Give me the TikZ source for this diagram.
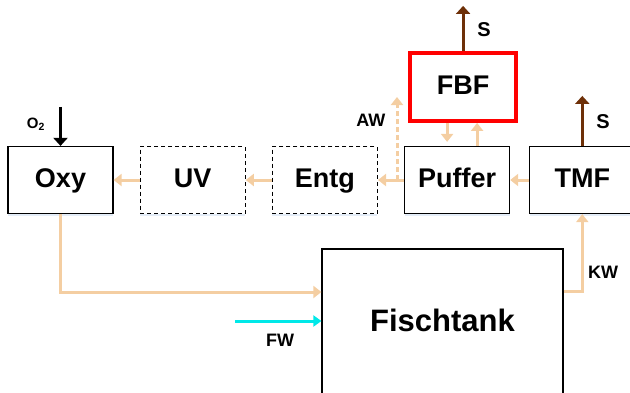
\documentclass[tikz,border=0pt]{standalone}
\usepackage{fontspec}
\setmainfont{Liberation Sans}
\usepackage{tikz}
\usetikzlibrary{positioning,arrows.meta,calc,shadows}
\definecolor{flowbeige}{RGB}{244,206,162}
\definecolor{sbrown}{RGB}{110,48,8}
\definecolor{fwcyan}{RGB}{0,232,232}
\definecolor{shadowblue}{RGB}{228,237,248}

\begin{document}
\begin{tikzpicture}[
  x=1pt, y=1pt,
  node distance=26pt,
  box/.style={draw, line width=1.2pt, minimum width=105pt, minimum height=67pt, align=center, text height=16pt, text depth=1pt,
    font=\fontsize{27}{29}\selectfont\bfseries, fill=white,
    drop shadow={shadow xshift=0pt, shadow yshift=-2.5pt, fill=shadowblue, opacity=1}},
  dbox/.style={box, dashed, dash pattern=on 4pt off 3pt},
  fbfbox/.style={box, draw=red, line width=4pt, minimum width=106pt, minimum height=68pt},
  lbl/.style={font=\fontsize{18}{20}\selectfont\bfseries},
  flow/.style={-{Triangle[width=12pt,length=8pt]}, line width=3pt, flowbeige},
  sflow/.style={-{Triangle[width=14pt,length=8pt]}, line width=3pt, sbrown},
  fwflow/.style={-{Triangle[width=11pt,length=8pt]}, line width=3pt, fwcyan},
  o2flow/.style={-{Triangle[width=14pt,length=8pt]}, line width=2.2pt, black},
]
  \useasboundingbox (0,0) rectangle (630,-392);
  \node[box] (oxy) at (60.5,-180) {Oxy};
  \node[dbox, right=of oxy] (uv) {UV};
  \node[dbox, right=of uv] (entg) {Entg};
  \node[box, right=of entg] (puffer) {Puffer};
  \node[box, right=19pt of puffer] (tmf) {TMF};
  \node[fbfbox, above=23pt of puffer, xshift=6pt] (fbf) {FBF};
  \node[box, minimum width=241pt, minimum height=150pt, text height=22pt, text depth=8pt, font=\fontsize{31}{33}\selectfont\bfseries] (tank) at (442.5,-324) {Fischtank};
  \draw[flow] (tmf) -- (puffer);
  \draw[flow] (puffer) -- (entg);
  \draw[flow] (entg) -- (uv);
  \draw[flow] (uv) -- (oxy);
  \coordinate (awbase) at ($(puffer.west)+(-7,0)$);
  \coordinate (awtop) at ($(awbase)+(0,83)$);
  \draw[flow, dashed, dash pattern=on 5pt off 3pt] (awbase) -- (awtop);
  \node[lbl, left=8pt of awtop, yshift=-23pt] (aw) {AW};
  \draw[flow, shorten >=4pt] ([xshift=-16pt]fbf.south) -- ([xshift=-16pt]fbf.south |- puffer.north);
  \draw[flow] ([xshift=14pt]fbf.south |- puffer.north) -- ([xshift=14pt]fbf.south);
  \coordinate (fbfs) at ($(fbf.north)+(0,45)$);
  \draw[sflow] (fbf.north) -- (fbfs);
  \node[lbl, font=\fontsize{20}{22}\selectfont\bfseries] (sa) at (484,-30) {S};
  \coordinate (tmfs) at ($(tmf.north)+(0,50)$);
  \draw[sflow] (tmf.north) -- (tmfs);
  \node[lbl, font=\fontsize{20}{22}\selectfont\bfseries] (sb) at (603,-122) {S};
  \coordinate (o2top) at ($(oxy.north)+(0,39)$);
  \draw[o2flow] (o2top) -- (oxy.north);
  \node[font=\fontsize{15}{17}\selectfont\bfseries] (o2) at (36,-124) {O\textsubscript{2}};
  \draw[flow] (oxy.south) |- ([yshift=32pt]tank.west);
  \coordinate (fwin) at (235,-321);
  \draw[fwflow] (fwin) -- (fwin -| tank.west);
  \node[lbl] (fw) at (280,-340) {FW};
  \draw[flow] ([yshift=33pt]tank.east) -| (tmf.south);
  \node[lbl] (kw) at (603,-272) {KW};
\end{tikzpicture}
\end{document}
